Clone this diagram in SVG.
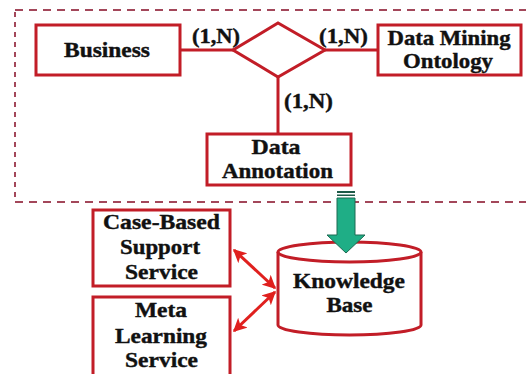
<svg xmlns="http://www.w3.org/2000/svg" width="526" height="374" viewBox="0 0 526 374">
  <defs>
    <style>
      .box { fill: #ffffff; stroke: #c21d27; stroke-width: 3; }
      .link { stroke: #c21d27; stroke-width: 3; fill: none; }
      .frame { stroke: #a3475a; stroke-width: 2; fill: none; }
      .lbl { font-family: 'Liberation Serif', 'DejaVu Serif', serif; font-weight: 700; font-size: 21px; fill: #111111; stroke: #111111; stroke-width: 0.4; text-anchor: middle; }
      .dbl { stroke: #e0201e; stroke-width: 3; fill: none; marker-start: url(#tipStart); marker-end: url(#tipEnd); }
    </style>
    <marker id="tipEnd" viewBox="0 0 10 10" refX="9" refY="5" markerWidth="4.5" markerHeight="4.5" orient="auto" markerUnits="strokeWidth">
      <path d="M0,0 L10,5 L0,10 L2.5,5 Z" fill="#e0201e"/>
    </marker>
    <marker id="tipStart" viewBox="0 0 10 10" refX="1" refY="5" markerWidth="4.5" markerHeight="4.5" orient="auto" markerUnits="strokeWidth">
      <path d="M10,0 L0,5 L10,10 L7.5,5 Z" fill="#e0201e"/>
    </marker>
  </defs>

  <rect width="526" height="374" fill="#ffffff"/>

  <!-- dashed frame around the ER model (right side runs off the page) -->
  <g id="frame">
    <line class="frame" x1="15" y1="10" x2="530" y2="10" stroke-dasharray="8 6"/>
    <line class="frame" x1="15" y1="202" x2="530" y2="202" stroke-dasharray="8 6"/>
    <line class="frame" x1="15" y1="12" x2="15" y2="202" stroke-dasharray="5 5"/>
  </g>

  <!-- connectors -->
  <g id="connectors">
    <line class="link" x1="180" y1="50" x2="233" y2="50"/>
    <line class="link" x1="325" y1="50" x2="378" y2="50"/>
    <line class="link" x1="278" y1="77" x2="278" y2="134"/>
    <line class="dbl" x1="234" y1="250" x2="275" y2="288"/>
    <line class="dbl" x1="275" y1="292" x2="234" y2="331"/>
    <text class="lbl" x="216" y="43" textLength="48" lengthAdjust="spacingAndGlyphs">(1,N)</text>
    <text class="lbl" x="343.5" y="43" textLength="49" lengthAdjust="spacingAndGlyphs">(1,N)</text>
    <text class="lbl" x="308.5" y="108" textLength="49" lengthAdjust="spacingAndGlyphs">(1,N)</text>
  </g>

  <g id="relationship">
    <polygon class="box" points="233,50 278,23 325,50 278,77"/>
  </g>

  <g id="business">
    <rect class="box" x="36" y="25" width="144" height="50"/>
    <text class="lbl" x="107" y="57" textLength="86" lengthAdjust="spacingAndGlyphs">Business</text>
  </g>

  <g id="data-mining-ontology">
    <rect class="box" x="378" y="25" width="143" height="50"/>
    <text class="lbl" x="449" y="45" textLength="123" lengthAdjust="spacingAndGlyphs">Data Mining</text>
    <text class="lbl" x="448" y="68" textLength="90" lengthAdjust="spacingAndGlyphs">Ontology</text>
  </g>

  <g id="data-annotation">
    <rect class="box" x="207" y="134" width="144" height="51"/>
    <text class="lbl" x="276" y="154" textLength="49" lengthAdjust="spacingAndGlyphs">Data</text>
    <text class="lbl" x="277.5" y="178" textLength="111" lengthAdjust="spacingAndGlyphs">Annotation</text>
  </g>

  <g id="case-based-support-service">
    <rect class="box" x="93" y="210" width="137" height="76"/>
    <text class="lbl" x="161.5" y="229" textLength="117" lengthAdjust="spacingAndGlyphs">Case-Based</text>
    <text class="lbl" x="160" y="254" textLength="80" lengthAdjust="spacingAndGlyphs">Support</text>
    <text class="lbl" x="161.5" y="279" textLength="73" lengthAdjust="spacingAndGlyphs">Service</text>
  </g>

  <g id="meta-learning-service">
    <rect class="box" x="93" y="297" width="137" height="90"/>
    <text class="lbl" x="161" y="317" textLength="52" lengthAdjust="spacingAndGlyphs">Meta</text>
    <text class="lbl" x="161" y="343" textLength="92" lengthAdjust="spacingAndGlyphs">Learning</text>
    <text class="lbl" x="161.5" y="367" textLength="73" lengthAdjust="spacingAndGlyphs">Service</text>
  </g>

  <g id="knowledge-base">
    <path class="box" d="M278,252 L278,325 A71.5,10 0 0 0 421,325 L421,252 A71.5,10 0 0 0 278,252 Z"/>
    <path class="link" d="M278,252 A71.5,10 0 0 0 421,252"/>
    <text class="lbl" x="349" y="288" textLength="112" lengthAdjust="spacingAndGlyphs">Knowledge</text>
    <text class="lbl" x="349.5" y="312" textLength="46" lengthAdjust="spacingAndGlyphs">Base</text>
  </g>

  <!-- block arrow from the model down into the knowledge base -->
  <g id="store-arrow">
    <rect x="337" y="191" width="18" height="2" fill="#1d5a48"/>
    <rect x="337" y="194.5" width="18" height="1.5" fill="#1d5a48"/>
    <path d="M337,198 L355,198 L355,235 L365,235 L346,253 L327,235 L337,235 Z" fill="#1fae86" stroke="#1d6a52" stroke-width="1"/>
  </g>
</svg>
